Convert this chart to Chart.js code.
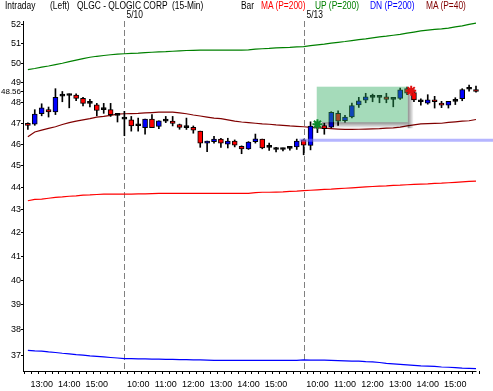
<!DOCTYPE html>
<html>
<head>
<meta charset="utf-8">
<script src="https://cdn.jsdelivr.net/npm/chart.js@4.4.1/dist/chart.umd.min.js"></script>
<style>
  html, body { margin: 0; padding: 0; background: #fff; }
  #wrap { position: relative; width: 493px; height: 391px; overflow: hidden; }
  #wrap canvas { position: absolute; left: 0; top: 0; }
  .hd { position: absolute; top: 0; font: 10px 'Liberation Sans', Arial, sans-serif; line-height: 12px;
        white-space: pre; color: #000; transform: scaleX(0.84); transform-origin: 0 0; }
</style>
</head>
<body>
<div id="wrap">
  <canvas id="chart" width="493" height="391"></canvas>
  <span class="hd" style="left:5px">Intraday</span>
  <span class="hd" style="left:50px">(Left)</span>
  <span class="hd" style="left:77px">QLGC - QLOGIC CORP  (15-Min)</span>
  <span class="hd" style="left:241px">Bar</span>
  <span class="hd" style="left:261px;color:#ff0000">MA (P=200)</span>
  <span class="hd" style="left:315px;color:#008000">UP (P=200)</span>
  <span class="hd" style="left:370px;color:#0000ff">DN (P=200)</span>
  <span class="hd" style="left:426px;color:#800000">MA (P=40)</span>
</div>
<script>
// 15-min bars: 5/9 afternoon, 5/10, 5/13
const timeLabels = [
  '12:30','12:45','13:00','13:15','13:30','13:45','14:00','14:15','14:30','14:45','15:00','15:15','15:30','15:45',
  '9:30','9:45','10:00','10:15','10:30','10:45','11:00','11:15','11:30','11:45','12:00','12:15','12:30','12:45',
  '13:00','13:15','13:30','13:45','14:00','14:15','14:30','14:45','15:00','15:15','15:30','15:45',
  '9:30','9:45','10:00','10:15','10:30','10:45','11:00','11:15','11:30','11:45','12:00','12:15','12:30','12:45',
  '13:00','13:15','13:30','13:45','14:00','14:15','14:30','14:45','15:00','15:15','15:30','15:45'
];
const dayBreakIdx = [14, 40];
const dayBreakLabels = ['5/10', '5/13'];

const open = [
  46.95, 46.95, 47.46, 47.66, 47.55, 48.35, 48.37, 48.38, 48.22, 47.98, 47.90, 47.67, 47.66, 47.40,
  47.22, 47.16, 46.89, 46.79, 47.20, 46.85, 47.11, 47.10, 46.94, 46.80, 46.80, 46.62, 46.05, 46.12,
  46.24, 46.00, 46.15, 45.90, 45.78, 46.12, 46.24, 45.86, 45.76, 45.76, 45.81, 45.87,
  46.20, 45.94, 46.88, 46.89, 46.81, 47.48, 47.13, 47.31, 47.89, 48.13, 48.28, 48.28, 48.30, 48.18,
  48.22, 48.70, 48.50, 48.06, 47.98, 48.15, 47.98, 47.88, 48.08, 48.20, 48.68, 48.65
];
const high = [
  47.02, 47.66, 47.95, 47.79, 48.70, 48.56, 48.44, 48.44, 48.27, 48.17, 47.97, 47.97, 47.97, 47.45,
  47.58, 47.33, 47.25, 47.20, 47.42, 47.12, 47.33, 47.33, 46.96, 47.25, 46.87, 46.62, 46.15, 46.37,
  46.28, 46.28, 46.20, 45.92, 46.12, 46.48, 46.24, 46.05, 45.85, 45.82, 45.90, 46.24,
  46.24, 47.07, 47.07, 47.00, 47.56, 47.60, 47.38, 47.98, 48.27, 48.47, 48.43, 48.30, 48.47, 48.20,
  48.73, 48.78, 48.64, 48.20, 48.40, 48.32, 48.07, 48.07, 48.25, 48.70, 48.88, 48.83
];
const low = [
  46.70, 46.90, 47.36, 47.30, 47.42, 48.05, 47.75, 48.10, 47.85, 47.79, 47.36, 47.48, 47.33, 47.06,
  46.40, 46.62, 46.62, 46.48, 46.79, 46.74, 47.03, 46.87, 46.71, 46.70, 46.52, 45.85, 45.65, 46.05,
  45.85, 45.82, 45.87, 45.55, 45.75, 46.05, 45.78, 45.70, 45.63, 45.68, 45.72, 45.75,
  45.50, 45.73, 46.55, 46.47, 46.78, 46.89, 47.05, 47.26, 47.77, 48.00, 48.05, 48.00, 48.00, 47.80,
  48.17, 48.40, 48.05, 47.88, 47.93, 47.74, 47.76, 47.74, 47.91, 48.10, 48.57, 48.53
];
const close = [
  46.90, 47.45, 47.75, 47.55, 48.27, 48.33, 48.36, 48.22, 47.97, 47.97, 47.62, 47.66, 47.42, 47.38,
  47.20, 46.87, 46.88, 47.20, 46.79, 47.12, 47.10, 46.99, 46.80, 46.79, 46.67, 46.05, 46.15, 46.24,
  46.05, 46.15, 45.95, 45.78, 46.10, 46.25, 45.82, 45.85, 45.75, 45.75, 45.80, 46.15,
  45.95, 46.86, 46.90, 46.74, 47.53, 47.10, 47.30, 47.86, 48.10, 48.30, 48.27, 48.27, 48.17, 48.17,
  48.64, 48.48, 48.14, 48.05, 48.15, 48.05, 47.88, 48.07, 48.07, 48.66, 48.67, 48.56
];

const ma200 = [
  43.40, 43.46, 43.47, 43.51, 43.55, 43.57, 43.60, 43.62, 43.65, 43.66, 43.68, 43.70, 43.70, 43.70,
  43.70, 43.70, 43.71, 43.71, 43.72, 43.73, 43.73, 43.73, 43.73, 43.73, 43.73, 43.73, 43.73, 43.73,
  43.73, 43.73, 43.73, 43.73, 43.73, 43.76, 43.78, 43.78, 43.79, 43.80, 43.82, 43.83,
  43.85, 43.87, 43.89, 43.91, 43.92, 43.94, 43.96, 43.98, 44.00, 44.02, 44.04, 44.06, 44.07, 44.09,
  44.10, 44.12, 44.14, 44.15, 44.16, 44.18, 44.19, 44.21, 44.23, 44.25, 44.27, 44.28
];
const upBand = [
  49.66, 49.72, 49.79, 49.85, 49.92, 49.99, 50.07, 50.15, 50.23, 50.30, 50.35, 50.39, 50.43, 50.46,
  50.48, 50.50, 50.51, 50.54, 50.56, 50.58, 50.59, 50.61, 50.63, 50.65, 50.66, 50.67, 50.67, 50.67,
  50.67, 50.67, 50.67, 50.67, 50.68, 50.72, 50.74, 50.76, 50.79, 50.80, 50.81, 50.84,
  50.85, 50.90, 50.94, 50.98, 51.04, 51.08, 51.12, 51.17, 51.22, 51.26, 51.31, 51.36, 51.40, 51.45,
  51.50, 51.56, 51.62, 51.68, 51.72, 51.76, 51.79, 51.83, 51.90, 51.95, 52.03, 52.10
];
const dnBand = [
  37.21, 37.19, 37.18, 37.15, 37.13, 37.10, 37.08, 37.05, 37.03, 37.00, 36.98, 36.96, 36.94, 36.92,
  36.90, 36.90, 36.89, 36.89, 36.88, 36.88, 36.87, 36.87, 36.86, 36.86, 36.85, 36.85, 36.84, 36.83,
  36.83, 36.83, 36.83, 36.83, 36.83, 36.83, 36.83, 36.83, 36.83, 36.83, 36.83, 36.83,
  36.85, 36.84, 36.84, 36.84, 36.83, 36.82, 36.81, 36.80, 36.80, 36.78, 36.77, 36.75, 36.72, 36.70,
  36.68, 36.66, 36.64, 36.62, 36.61, 36.60, 36.58, 36.57, 36.56, 36.54, 36.53, 36.52
];
const ma40 = [
  46.35, 46.58, 46.67, 46.75, 46.83, 46.94, 47.03, 47.10, 47.16, 47.22, 47.30, 47.33, 47.38, 47.44,
  47.46, 47.47, 47.48, 47.50, 47.52, 47.54, 47.54, 47.54, 47.50, 47.46, 47.40, 47.35, 47.30, 47.25,
  47.22, 47.16, 47.10, 47.06, 47.03, 47.00, 46.97, 46.95, 46.92, 46.90, 46.87, 46.85,
  46.83, 46.80, 46.78, 46.76, 46.74, 46.72, 46.70, 46.70, 46.71, 46.72, 46.73, 46.74, 46.76, 46.78,
  46.81, 46.87, 46.92, 46.97, 46.98, 46.99, 47.00, 47.04, 47.07, 47.10, 47.12, 47.18
];

const yTickValues = [37, 38, 39, 40, 41, 42, 43, 44, 45, 46, 47, 48, 49, 50, 51, 52];
const lastPrice = 48.56;

// drawn annotations (data units)
const boxFrom = 41.9, boxTo = 55.1, boxHigh = 48.8, boxLow = 47.05;
const hiliteFrom = 39.4, hilitePrice = 46.18;
const markerIdx = [42, 55.6];
const markerPrice = [46.95, 48.6];

const FONT_FAMILY = "'Liberation Sans', Arial, sans-serif";
Chart.defaults.font.family = FONT_FAMILY;
Chart.defaults.font.size = 9;
Chart.defaults.color = '#000';

function pts(arr) {
  return arr.map((v, i) => ({ x: i, y: v }));
}

function isDoji(i) {
  return Math.abs(close[i] - open[i]) < 0.03;
}

const overlay = {
  id: 'overlay',
  beforeDatasetsDraw(chart) {
    const { ctx, chartArea, scales: { x } } = chart;
    ctx.save();
    ctx.strokeStyle = '#808080';
    ctx.lineWidth = 1;
    ctx.setLineDash([6, 3]);
    dayBreakIdx.forEach((idx, k) => {
      const px = Math.round(x.getPixelForValue(idx)) + 0.5;
      ctx.beginPath();
      ctx.moveTo(px, chartArea.top);
      ctx.lineTo(px, chartArea.bottom);
      ctx.stroke();
      ctx.save();
      ctx.translate(px + 2, 15);
      ctx.scale(0.84, 1);
      ctx.fillStyle = '#000';
      ctx.font = '10px ' + FONT_FAMILY;
      ctx.textBaseline = 'middle';
      ctx.fillText(dayBreakLabels[k], 0, 0);
      ctx.restore();
    });
    ctx.restore();
  },
  afterDatasetsDraw(chart) {
    const { ctx, chartArea, scales: { x, y } } = chart;
    ctx.save();

    // bottom axis line, up to the last bar
    ctx.strokeStyle = '#000';
    ctx.lineWidth = 1;
    ctx.beginPath();
    ctx.moveTo(chartArea.left, chartArea.bottom + 0.5);
    ctx.lineTo(x.getPixelForValue(timeLabels.length - 1) + 0.5, chartArea.bottom + 0.5);
    ctx.stroke();

    // blue highlight line
    const hy = y.getPixelForValue(hilitePrice);
    ctx.strokeStyle = 'rgba(120,120,255,0.55)';
    ctx.lineWidth = 3;
    ctx.beginPath();
    ctx.moveTo(x.getPixelForValue(hiliteFrom), hy);
    ctx.lineTo(chartArea.right, hy);
    ctx.stroke();

    // green box with shadow
    const x1 = x.getPixelForValue(boxFrom), x2 = x.getPixelForValue(boxTo);
    const y1 = y.getPixelForValue(boxHigh), y2 = y.getPixelForValue(boxLow);
    let g = ctx.createLinearGradient(x2, 0, x2 + 6, 0);
    g.addColorStop(0, 'rgba(0,0,0,0.45)');
    g.addColorStop(1, 'rgba(0,0,0,0)');
    ctx.fillStyle = g;
    ctx.fillRect(x2, y1 + 5, 6, y2 - y1 + 1);
    g = ctx.createLinearGradient(0, y2, 0, y2 + 6);
    g.addColorStop(0, 'rgba(0,0,0,0.45)');
    g.addColorStop(1, 'rgba(0,0,0,0)');
    ctx.fillStyle = g;
    ctx.fillRect(x1 + 5, y2, x2 - x1 - 5, 6);
    ctx.fillStyle = 'rgba(40,170,90,0.42)';
    ctx.fillRect(x1, y1, x2 - x1, y2 - y1);

    // star markers
    const starColors = ['#0a8a2a', '#e01010'];
    markerIdx.forEach((idx, k) => {
      const cx = x.getPixelForValue(idx), cy = y.getPixelForValue(markerPrice[k]);
      ctx.strokeStyle = starColors[k];
      ctx.lineWidth = 2;
      ctx.beginPath();
      for (let a = 0; a < 4; a++) {
        const ang = a * Math.PI / 4;
        ctx.moveTo(cx - 5 * Math.cos(ang), cy - 5 * Math.sin(ang));
        ctx.lineTo(cx + 5 * Math.cos(ang), cy + 5 * Math.sin(ang));
      }
      ctx.stroke();
    });
    ctx.restore();
  }
};

const lineStyle = { type: 'line', pointRadius: 0, borderWidth: 1.2, tension: 0, fill: false, order: 3 };

new Chart(document.getElementById('chart'), {
  type: 'bar',
  data: {
    datasets: [
      { ...lineStyle, label: 'UP (P=200)', data: pts(upBand), borderColor: '#008000' },
      { ...lineStyle, label: 'MA (P=200)', data: pts(ma200), borderColor: '#ff0000' },
      { ...lineStyle, label: 'DN (P=200)', data: pts(dnBand), borderColor: '#0000ff' },
      { ...lineStyle, label: 'MA (P=40)', data: pts(ma40), borderColor: '#800000' },
      {
        label: 'wick',
        data: timeLabels.map((t, i) => ({ x: i, y: [low[i], high[i]] })),
        backgroundColor: '#000',
        barThickness: 1,
        grouped: false,
        order: 2
      },
      {
        label: 'Bar',
        data: timeLabels.map((t, i) => ({ x: i, y: [open[i], close[i]] })),
        backgroundColor: ctx => {
          const i = ctx.dataIndex;
          if (isDoji(i)) return '#000';
          return close[i] > open[i] ? '#0000ff' : '#ff0000';
        },
        borderColor: '#000',
        borderWidth: 1,
        borderSkipped: false,
        barThickness: 5,
        minBarLength: 2,
        grouped: false,
        order: 1
      }
    ]
  },
  options: {
    responsive: false,
    animation: false,
    devicePixelRatio: 1,
    layout: { padding: { top: 21, left: 0, right: 0, bottom: 0 } },
    plugins: { legend: { display: false }, tooltip: { enabled: false } },
    scales: {
      x: {
        type: 'linear',
        min: -0.19,
        max: 66.95,
        afterBuildTicks: scale => {
          scale.ticks = timeLabels.map((t, i) => ({ value: i }));
        },
        afterFit: scale => { scale.height = 20; },
        ticks: {
          autoSkip: false,
          maxRotation: 0,
          padding: 5,
          callback: v => {
            const t = timeLabels[v];
            if (!t || dayBreakIdx.includes(v)) return '';
            return t.endsWith(':00') ? t : '';
          }
        },
        grid: { drawOnChartArea: false, drawTicks: true, tickLength: 3, color: '#000' },
        border: { display: false }
      },
      y: {
        type: 'logarithmic',
        position: 'left',
        min: 36.43,
        max: 52.21,
        afterBuildTicks: scale => {
          scale.ticks = yTickValues.concat([lastPrice]).map(v => ({ value: v }));
        },
        afterFit: scale => { scale.width = 23; },
        ticks: {
          padding: 0,
          font: c => (c.tick && c.tick.value === lastPrice ? { size: 8 } : { size: 9 }),
          callback: v => (v === lastPrice ? lastPrice.toFixed(2) : String(v))
        },
        grid: { drawOnChartArea: false, drawTicks: true, tickLength: 2, color: '#000' },
        border: { color: '#000', width: 1 }
      }
    }
  },
  plugins: [overlay]
});
</script>
</body>
</html>
